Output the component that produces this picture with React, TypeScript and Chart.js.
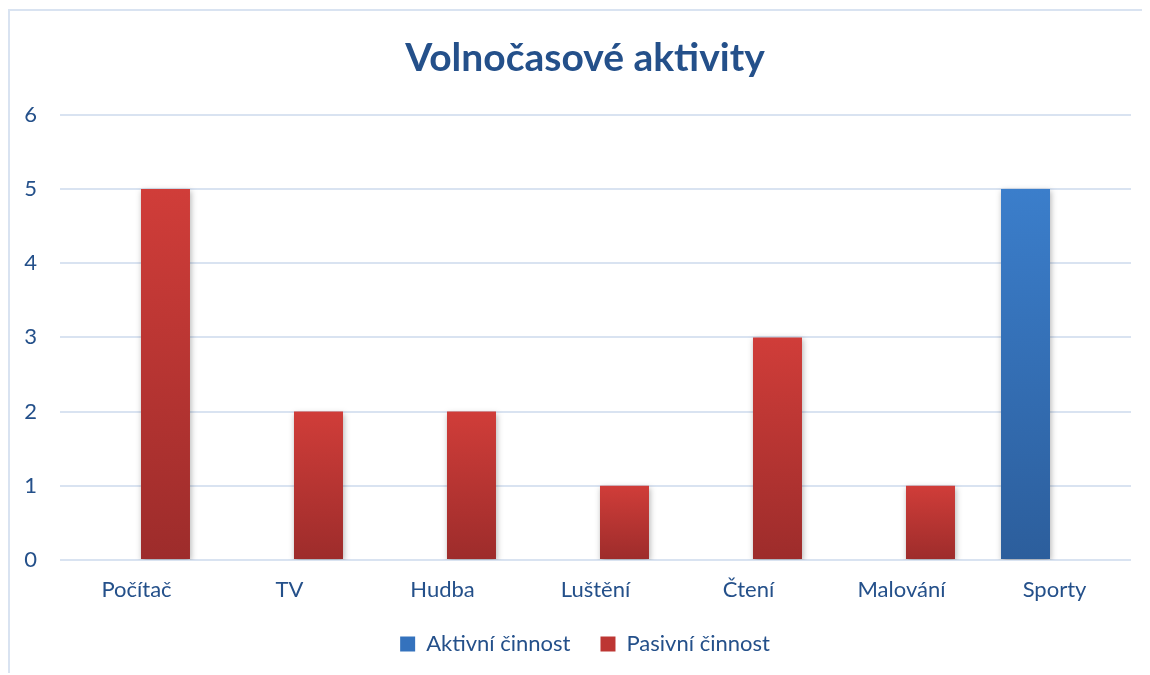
import React, { useEffect, useRef } from "react";
import { Chart, registerables } from "chart.js";

Chart.register(...registerables);

const categories = ["Počítač", "TV", "Hudba", "Luštění", "Čtení", "Malování", "Sporty"];
const aktivni: (number | null)[] = [null, null, null, null, null, null, 5];
const pasivni: (number | null)[] = [5, 2, 2, 1, 3, 1, null];
const yTicks = [0, 1, 2, 3, 4, 5, 6];

const TEXT = "#24508a";
const GRID = "#d9e3f1";
const FONT = "Lato, 'Open Sans', sans-serif";
const SWATCH = ["#3472bd", "#bd3633"];

function barGradient(ctx: any, top: string, bottom: string) {
  const chart = ctx.chart;
  const y = chart.scales?.y;
  if (!y || ctx.raw == null) return top;
  const y0 = y.getPixelForValue(ctx.raw);
  const y1 = y.getPixelForValue(0);
  if (!isFinite(y0) || !isFinite(y1) || y0 === y1) return top;
  const g = chart.ctx.createLinearGradient(0, y0, 0, y1);
  g.addColorStop(0, top);
  g.addColorStop(1, bottom);
  return g;
}

const shadowPlugin = {
  id: "barShadow",
  beforeDatasetsDraw(chart: any) {
    const c = chart.ctx;
    c.save();
    c.shadowColor = "rgba(0,0,0,0.30)";
    c.shadowBlur = 6;
    c.shadowOffsetX = 1;
    c.shadowOffsetY = 2;
  },
  afterDatasetsDraw(chart: any) {
    chart.ctx.restore();
  },
};

export default function App() {
  const ref = useRef<HTMLCanvasElement | null>(null);
  useEffect(() => {
    if (!ref.current) return;
    const chart = new Chart(ref.current, {
      type: "bar",
      data: {
        labels: categories,
        datasets: [
          {
            label: "Aktivní činnost",
            data: aktivni,
            backgroundColor: (c: any) => barGradient(c, "#3b7ecb", "#2c5e9c"),
          },
          {
            label: "Pasivní činnost",
            data: pasivni,
            backgroundColor: (c: any) => barGradient(c, "#d03d39", "#9d2c2b"),
          },
        ],
      },
      options: {
        animation: false,
        responsive: true,
        maintainAspectRatio: false,
        layout: { padding: { left: 10, right: 0, top: 0, bottom: 8 } },
        datasets: { bar: { categoryPercentage: 0.758, barPercentage: 0.845 } },
        scales: {
          x: {
            afterFit: (s: any) => {
              s.height = 43;
            },
            grid: { display: false, drawTicks: false },
            border: { display: false },
            ticks: { color: TEXT, font: { family: FONT, size: 22 }, padding: 17 },
          },
          y: {
            min: 0,
            max: 6,
            afterFit: (s: any) => {
              s.width = 40;
            },
            afterBuildTicks: (s: any) => {
              s.ticks = yTicks.map((v) => ({ value: v }));
            },
            grid: { color: GRID, lineWidth: 2, drawTicks: false },
            border: { display: false },
            ticks: { color: TEXT, font: { family: FONT, size: 22 }, padding: 23 },
          },
          yRight: {
            position: "right",
            min: 0,
            max: 6,
            afterFit: (s: any) => {
              s.width = 19;
            },
            grid: { display: false, drawTicks: false },
            border: { display: false },
            ticks: { display: false },
          },
        },
        plugins: {
          title: {
            display: true,
            text: "Volnočasové aktivity",
            color: TEXT,
            font: { family: FONT, size: 39, weight: "bold" },
            padding: { top: 24, bottom: 33 },
          },
          legend: {
            position: "bottom",
            labels: {
              color: TEXT,
              font: { family: FONT, size: 22 },
              boxWidth: 15,
              boxHeight: 15,
              padding: 30,
              generateLabels: (ch: any) =>
                ch.data.datasets.map((ds: any, i: number) => ({
                  text: ds.label,
                  fillStyle: SWATCH[i],
                  strokeStyle: SWATCH[i],
                  lineWidth: 0,
                  fontColor: TEXT,
                  hidden: false,
                  datasetIndex: i,
                })),
            },
          },
          tooltip: { enabled: false },
        },
      },
      plugins: [shadowPlugin],
    });
    return () => chart.destroy();
  }, []);
  return (
    <div
      style={{
        position: "relative",
        marginTop: 1,
        width: 1142,
        height: 664,
        borderTop: `2px solid ${GRID}`,
        borderLeft: `2px solid ${GRID}`,
        boxSizing: "border-box",
      }}
    >
      <canvas ref={ref} />
    </div>
  );
}
